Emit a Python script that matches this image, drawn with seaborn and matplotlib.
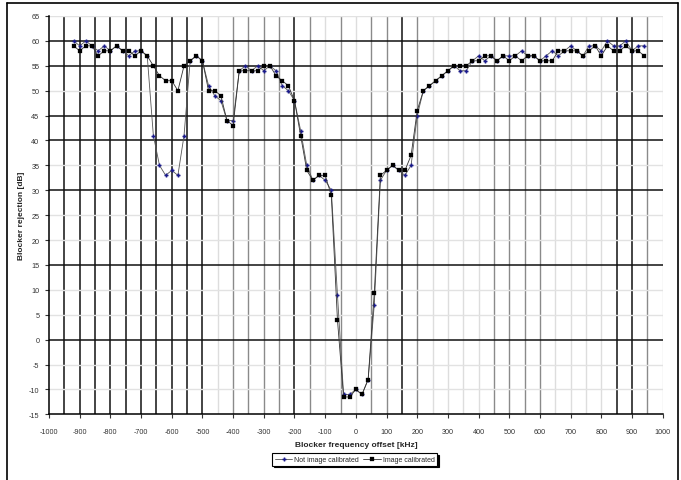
import numpy as np
import pandas as pd
import matplotlib
matplotlib.use("Agg")
import matplotlib.pyplot as plt
from matplotlib.lines import Line2D
import seaborn as sns

# ---- data ----
freq_khz = list(range(-920, 941, 20))

not_image_calibrated = [
    60, 59, 60, 59, 58, 59, 58, 59, 58, 57, 58, 58, 57,
    41, 35, 33, 34, 33, 41, 56, 57, 56, 51, 49, 48, 44, 44,
    54, 55, 54, 55, 54, 55, 54, 51, 50, 48, 42, 35, 32, 33, 32, 30,
    9, -11, -11, -10, -11, -8, 7, 32, 34, 35, 34, 33, 35, 45,
    50, 51, 52, 53, 54, 55, 54, 54, 56, 57, 56, 57, 56, 57, 57,
    57, 58, 57, 57, 56, 57, 58, 57, 58, 59, 58, 57, 59, 59, 58,
    60, 59, 59, 60, 58, 59, 59,
]
image_calibrated = [
    59, 58, 59, 59, 57, 58, 58, 59, 58, 58, 57, 58, 57,
    55, 53, 52, 52, 50, 55, 56, 57, 56, 50, 50, 49, 44, 43,
    54, 54, 54, 54, 55, 55, 53, 52, 51, 48, 41, 34, 32, 33, 33, 29,
    4, -11.5, -11.5, -10, -11, -8, 9.3, 33, 34, 35, 34, 34, 37, 46,
    50, 51, 52, 53, 54, 55, 55, 55, 56, 56, 57, 57, 56, 57, 56,
    57, 56, 57, 57, 56, 56, 56, 58, 58, 58, 58, 57, 58, 59, 57,
    59, 58, 58, 59, 58, 58, 57,
]
series_names = ["Not image calibrated", "Image calibrated"]
x_ticks = list(range(-1000, 1001, 100))
y_ticks = list(range(-15, 66, 5))
x_label = "Blocker frequency offset [kHz]"
y_label = "Blocker rejection [dB]"

# ---- styles ----
dark_v = [-950, -900, -850, -800, -750, -700, -650, -600, -550, -500, -200, 150, 850, 900]
mid_v = [-400, -350, -300, -250, -150, -50, 50, 100, 200, 450, 500, 550, 600, 950]
dark_h = [60, 55, 45, 40, 30, 15, 0]

df = pd.DataFrame({
    "freq": freq_khz * 2,
    "rej": not_image_calibrated + image_calibrated,
    "series": [series_names[0]] * len(freq_khz) + [series_names[1]] * len(freq_khz),
})

sns.set_theme(style="white")
plt.rcParams["font.family"] = ["Liberation Sans", "DejaVu Sans"]

fig = plt.figure(figsize=(6.81, 4.81), dpi=100)
ax = fig.add_axes([0.0720, 0.1364, 0.9011, 0.8283])

ax.set_xlim(-1000, 1000)
ax.set_ylim(-15, 65)

# gridlines
for v in range(-950, 1001, 50):
    if v in dark_v:
        c, lw = "#111111", 1.1
    elif v in mid_v:
        c, lw = "#8a8a8a", 1.0
    else:
        c, lw = "#dddddd", 1.0
    ax.axvline(v, color=c, lw=lw, zorder=0)
for h in range(-10, 66, 5):
    if h in dark_h:
        c, lw = "#111111", 1.1
    else:
        c, lw = "#e2e2e2", 1.0
    ax.axhline(h, color=c, lw=lw, zorder=0)

sub1 = df[df.series == series_names[0]]
sub2 = df[df.series == series_names[1]]
sns.lineplot(data=sub1, x="freq", y="rej", ax=ax, color="#555555", lw=0.6,
             marker="P", markersize=2.6, markerfacecolor="#1a1a8c",
             markeredgecolor="#1a1a8c", markeredgewidth=0.2,
             label=series_names[0], zorder=3)
sns.lineplot(data=sub2, x="freq", y="rej", ax=ax, color="#333333", lw=0.6,
             marker="s", markersize=2.4, markerfacecolor="#000000",
             markeredgecolor="#000000", markeredgewidth=0.2,
             label=series_names[1], zorder=4)

ax.set_xticks(x_ticks)
ax.set_yticks(y_ticks)
ax.set_xticklabels([str(t) for t in x_ticks])
ax.set_yticklabels([str(t) for t in y_ticks])
ax.tick_params(axis="both", labelsize=5.2, colors="#333333", length=3, width=0.8,
               direction="out", pad=4)
ax.tick_params(axis="x", pad=7)
ax.tick_params(left=True, bottom=True)

for s in ["top", "right"]:
    ax.spines[s].set_visible(False)
for s in ["left", "bottom"]:
    ax.spines[s].set_color("#000000")
    ax.spines[s].set_linewidth(1.1)

ax.set_xlabel(x_label, fontsize=6, fontweight="bold", labelpad=4)
ax.set_ylabel(y_label, fontsize=6, fontweight="bold", labelpad=3)

handles, labels = ax.get_legend_handles_labels()
if ax.legend_:
    ax.legend_.remove()
leg = fig.legend(handles, labels, loc="center", bbox_to_anchor=(0.521, 0.0426),
                 ncol=2, fontsize=5, frameon=True, fancybox=False,
                 shadow={"ox": 1.2, "oy": -1.2, "color": "#000000", "alpha": 1.0},
                 handlelength=2.5, columnspacing=0.6, handletextpad=0.3,
                 borderpad=0.4)
leg.get_frame().set_edgecolor("#000000")
leg.get_frame().set_linewidth(0.8)

# outer cell frame
fig.add_artist(Line2D([7 / 681, 7 / 681], [0, 1 - 4 / 481], color="black", lw=1.2))
fig.add_artist(Line2D([677.5 / 681, 677.5 / 681], [0, 1 - 4 / 481], color="black", lw=1.2))
fig.add_artist(Line2D([7 / 681, 677.5 / 681], [1 - 4 / 481, 1 - 4 / 481], color="black", lw=1.2))

fig.savefig("out.png", dpi=100)
